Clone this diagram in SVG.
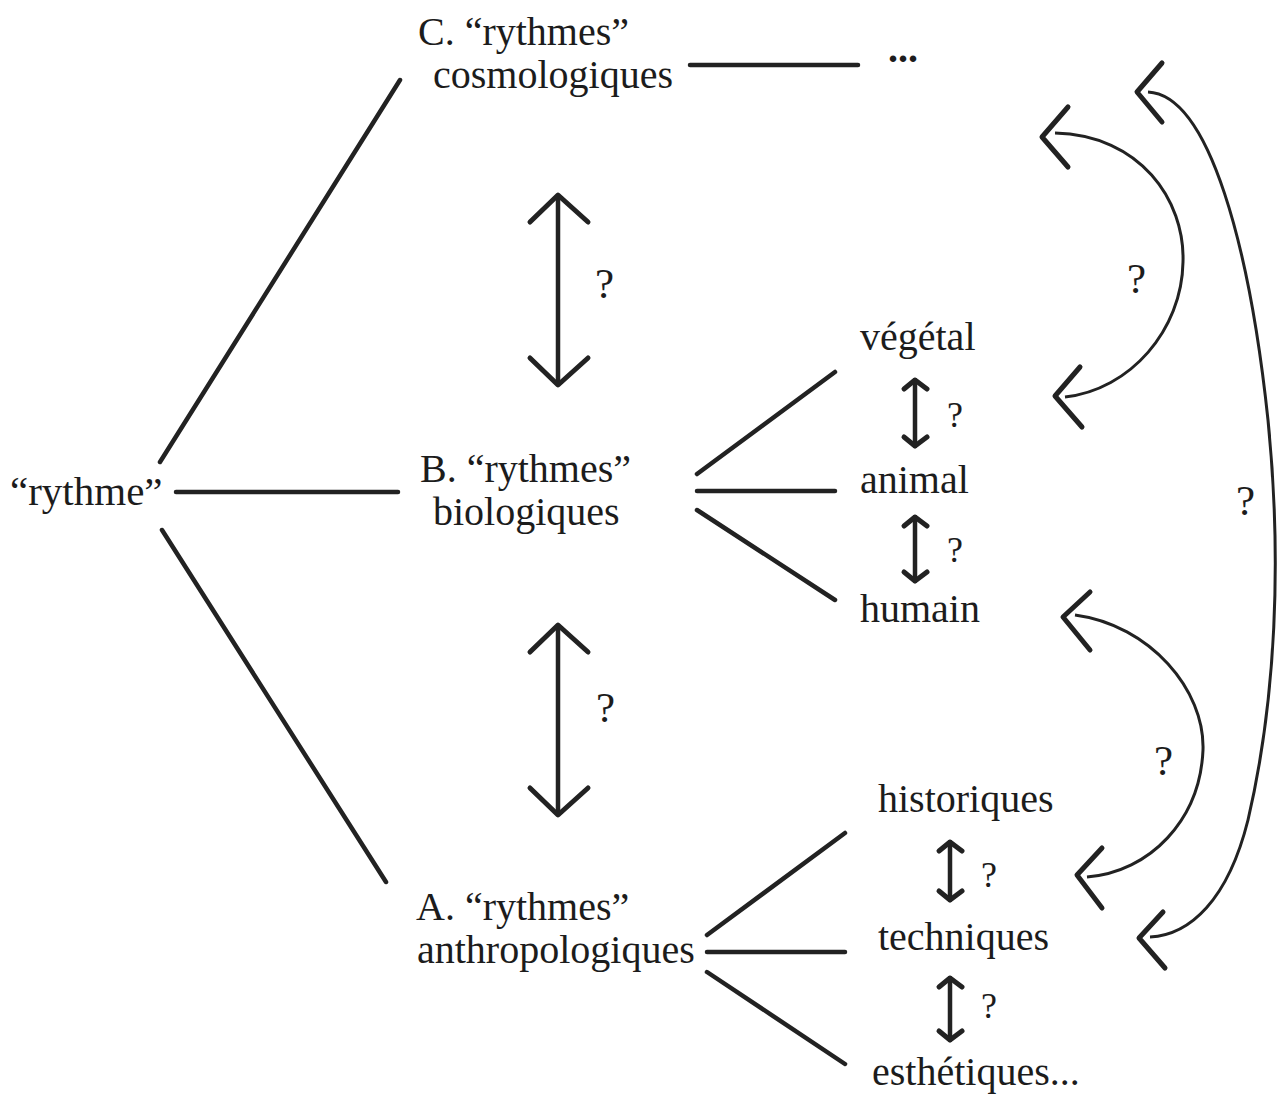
<svg xmlns="http://www.w3.org/2000/svg" width="1277" height="1099" viewBox="0 0 1277 1099">
<style>
text{font-family:"Liberation Serif","Times New Roman",serif;font-size:40px;fill:#1c1c1c}
.q{font-size:43px}
.sq{font-size:36px}
.ln{stroke:#222;stroke-width:4.5;fill:none;stroke-linecap:round}
.ah{stroke:#222;stroke-width:5;fill:none;stroke-linecap:round;stroke-linejoin:round}
.cv{stroke:#222;stroke-width:3;fill:none}
</style>
<rect width="1277" height="1099" fill="#fff"/>
<g id="connectors">
<line class="ln" x1="160" y1="462" x2="400" y2="80"/>
<line class="ln" x1="176" y1="492" x2="398" y2="492"/>
<line class="ln" x1="162" y1="530" x2="386" y2="882"/>
<line class="ln" x1="690" y1="65" x2="858" y2="65"/>
<line class="ln" x1="697" y1="474" x2="835" y2="372"/>
<line class="ln" x1="697" y1="491" x2="835" y2="491"/>
<line class="ln" x1="697" y1="510" x2="835" y2="600"/>
<line class="ln" x1="707" y1="935" x2="845" y2="833"/>
<line class="ln" x1="707" y1="952" x2="845" y2="952"/>
<line class="ln" x1="707" y1="972" x2="845" y2="1064"/>
<g id="arrow-cb">
<line class="ln" x1="558" y1="197" x2="558" y2="383"/>
<polyline class="ah" points="530,222 558,195 588,222"/>
<polyline class="ah" points="530,358 558,385 588,358"/>
</g>
<g id="arrow-ba">
<line class="ln" x1="558" y1="627" x2="558" y2="813"/>
<polyline class="ah" points="530,652 558,625 588,652"/>
<polyline class="ah" points="530,788 558,815 588,788"/>
</g>
<g id="arrow-va">
<line class="ln" x1="915" y1="380" x2="915" y2="446"/>
<polyline class="ah" points="904,389 915,380 927,389"/>
<polyline class="ah" points="904,437 915,446 927,437"/>
</g>
<g id="arrow-ah">
<line class="ln" x1="915" y1="517" x2="915" y2="581"/>
<polyline class="ah" points="904,526 915,517 927,526"/>
<polyline class="ah" points="904,572 915,581 927,572"/>
</g>
<g id="arrow-ht">
<line class="ln" x1="950" y1="842" x2="950" y2="900"/>
<polyline class="ah" points="939,851 950,842 962,851"/>
<polyline class="ah" points="939,891 950,900 962,891"/>
</g>
<g id="arrow-te">
<line class="ln" x1="950" y1="978" x2="950" y2="1040"/>
<polyline class="ah" points="939,987 950,978 962,987"/>
<polyline class="ah" points="939,1031 950,1040 962,1031"/>
</g>
<g id="arc-upper">
<path class="cv" d="M1055,133 C1140,135 1185,200 1183,262 C1182,330 1130,390 1065,397"/>
<polyline class="ah" points="1068,107 1042,137 1068,167"/>
<polyline class="ah" points="1080,367 1055,396 1082,427"/>
</g>
<g id="arc-outer">
<path class="cv" d="M1148,92 C1210,95 1250,250 1268,420 C1282,560 1276,700 1248,820 C1228,900 1190,935 1150,937"/>
<polyline class="ah" points="1162,63 1137,92 1162,122"/>
<polyline class="ah" points="1163,912 1139,938 1165,968"/>
</g>
<g id="arc-lower">
<path class="cv" d="M1075,615 C1150,625 1205,690 1203,750 C1200,820 1150,872 1087,877"/>
<polyline class="ah" points="1090,592 1063,617 1090,650"/>
<polyline class="ah" points="1102,848 1077,875 1102,908"/>
</g>
</g>
<g id="node-rythme"><text x="10" y="505" style="font-size:41px">“rythme”</text></g>
<g id="node-C"><text x="418" y="45">C. “rythmes”</text><text x="433" y="88">cosmologiques</text></g>
<g id="node-etc"><text x="888" y="62" style="font-weight:bold">...</text></g>
<g id="node-B"><text x="420" y="482">B. “rythmes”</text><text x="433" y="525">biologiques</text></g>
<g id="node-A"><text x="416" y="920">A. “rythmes”</text><text x="417" y="963">anthropologiques</text></g>
<g id="node-vegetal"><text x="860" y="350">végétal</text></g>
<g id="node-animal"><text x="860" y="493">animal</text></g>
<g id="node-humain"><text x="860" y="622">humain</text></g>
<g id="node-historiques"><text x="878" y="812">historiques</text></g>
<g id="node-techniques"><text x="878" y="950">techniques</text></g>
<g id="node-esthetiques"><text x="872" y="1085">esthétiques...</text></g>
<g id="labels">
<text class="q" x="595" y="298">?</text>
<text class="q" x="596" y="722">?</text>
<text class="sq" x="947" y="427">?</text>
<text class="sq" x="947" y="562">?</text>
<text class="sq" x="981" y="887">?</text>
<text class="sq" x="981" y="1018">?</text>
<text class="q" x="1127" y="293">?</text>
<text class="q" x="1154" y="775">?</text>
<text class="q" x="1236" y="515">?</text>
</g>
</svg>
